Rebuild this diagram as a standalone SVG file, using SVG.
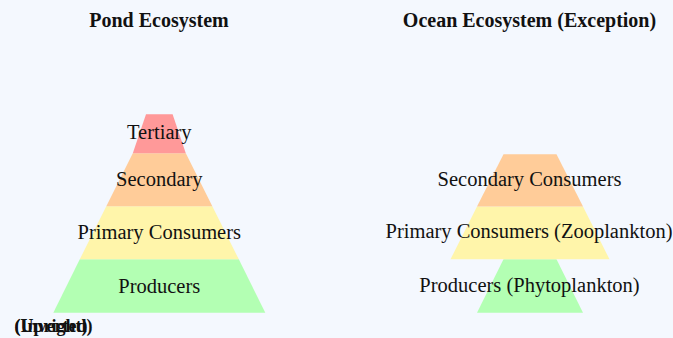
<svg xmlns="http://www.w3.org/2000/svg" width="673" height="338" viewBox="0 0 673 338">
<style>
.bg{fill:#f4f8fe}
.t{fill:#ff9999}
.s{fill:#ffcc99}
.p{fill:#fff5aa}
.g{fill:#b3ffb3}
.lbl{font-family:"Liberation Serif","Times New Roman",serif;font-size:20.5px;fill:#111;text-anchor:middle}
.ttl{font-family:"Liberation Serif","Times New Roman",serif;font-size:20px;font-weight:bold;fill:#111;text-anchor:middle}
.note{font-family:"Liberation Serif","Times New Roman",serif;font-size:18px;font-weight:bold;fill:#111;text-anchor:start}
</style>
<rect class="bg" x="0" y="0" width="673" height="338"/>
<text class="ttl" x="159" y="26.5">Pond Ecosystem</text>
<text class="ttl" x="529.5" y="26.5">Ocean Ecosystem (Exception)</text>
<g id="pond">
<g id="pond-producers">
<polygon class="g" points="79.8,259.3 238.8,259.3 265.3,312.7 53.3,312.7"/>
<text class="lbl" x="159.3" y="292.5">Producers</text>
</g>
<g id="pond-primary">
<polygon class="p" points="106.3,206.3 212.3,206.3 238.8,259.3 79.8,259.3"/>
<text class="lbl" x="159.3" y="238.5">Primary Consumers</text>
</g>
<g id="pond-secondary">
<polygon class="s" points="132.8,153.3 185.8,153.3 212.3,206.3 106.3,206.3"/>
<text class="lbl" x="159.3" y="185.5">Secondary</text>
</g>
<g id="pond-tertiary">
<polygon class="t" points="146,114.3 172.6,114.3 185.8,153.3 132.8,153.3"/>
<text class="lbl" x="159.3" y="139">Tertiary</text>
</g>
</g>
<g id="ocean">
<g id="ocean-producers">
<polygon class="g" points="503.5,259.3 556.5,259.3 583,312.7 477,312.7"/>
<text class="lbl" x="529.5" y="291.5">Producers (Phytoplankton)</text>
</g>
<g id="ocean-primary">
<polygon class="p" points="477,206.5 583,206.5 609.5,259.3 450.5,259.3"/>
<text class="lbl" x="529" y="238">Primary Consumers (Zooplankton)</text>
</g>
<g id="ocean-secondary">
<polygon class="s" points="503.5,154.3 556.5,154.3 583,206.5 477,206.5"/>
<text class="lbl" x="529.5" y="185.5">Secondary Consumers</text>
</g>
</g>
<g id="connectors"/>
<text class="note" x="14.5" y="331.5">(Inverted)</text>
<text class="note" x="14.5" y="331.5">(Upright)</text>
</svg>
